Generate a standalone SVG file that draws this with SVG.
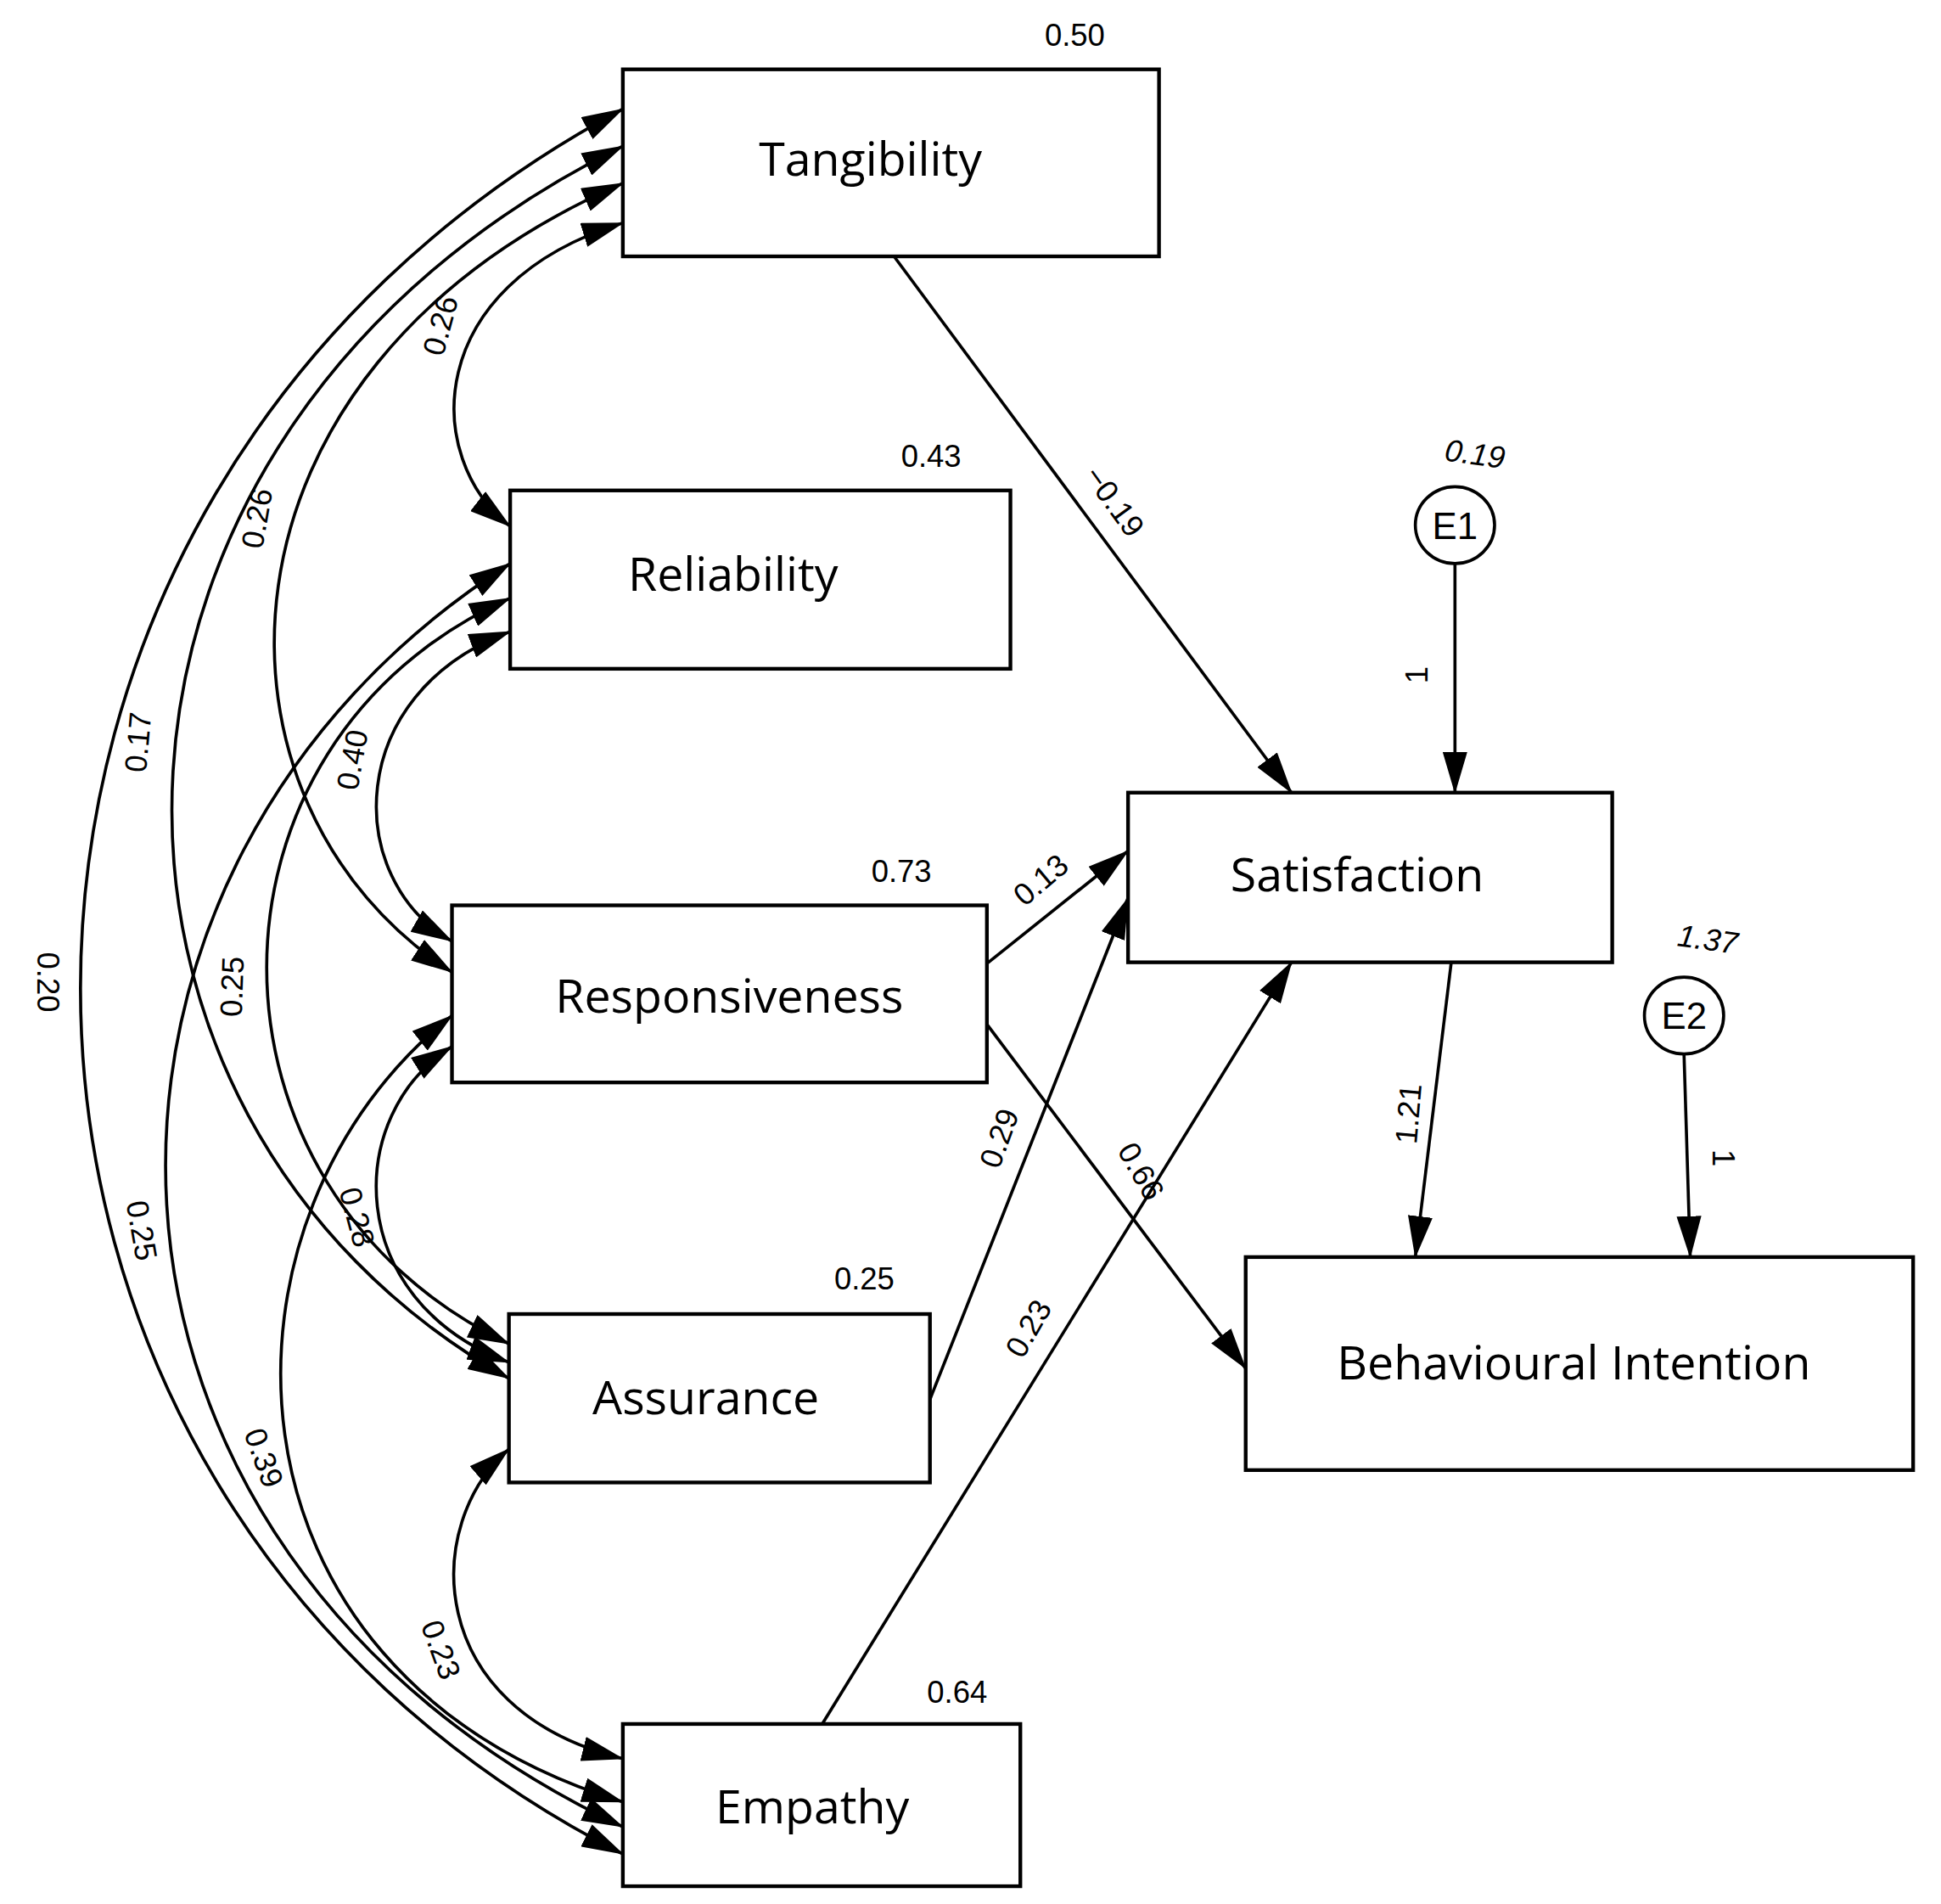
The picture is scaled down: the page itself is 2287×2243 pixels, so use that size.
<svg xmlns="http://www.w3.org/2000/svg" width="2287" height="2243" viewBox="0 0 2287 2243">
<style>
.box{fill:#fff;stroke:#000;stroke-width:3}
.lab{font-family:"Open Sans",sans-serif;font-size:38px;text-anchor:middle;fill:#000}
.num{font-family:"Liberation Sans",Arial,sans-serif;font-size:25px;text-anchor:middle;fill:#000}
.it{font-style:italic}
.c{fill:none;stroke:#000;stroke-width:2.5}
</style>
<defs>
<marker id="ah" markerUnits="userSpaceOnUse" markerWidth="34" markerHeight="20" viewBox="0 0 34 20" refX="33" refY="10" orient="auto-start-reverse"><path d="M0,0 L34,10 L0,20 Z" fill="#000"/></marker>
</defs>
<rect width="2287" height="2243" fill="#fff"/>
<g transform="scale(1.459)">
<g id="connectors">
<path class="c" marker-start="url(#ah)" marker-end="url(#ah)" d="M503,180 C341,230 341,370 412,425"/>
<path class="c" marker-start="url(#ah)" marker-end="url(#ah)" d="M503,148 C155,300 155,650 365,785"/>
<path class="c" marker-start="url(#ah)" marker-end="url(#ah)" d="M503,118 C34,350 34,900 411,1113"/>
<path class="c" marker-start="url(#ah)" marker-end="url(#ah)" d="M503,88 C-81,400 -81,1200 503,1497"/>
<path class="c" marker-start="url(#ah)" marker-end="url(#ah)" d="M412,510 C277,560 277,710 365,760"/>
<path class="c" marker-start="url(#ah)" marker-end="url(#ah)" d="M412,483 C150,600 150,960 411,1085"/>
<path class="c" marker-start="url(#ah)" marker-end="url(#ah)" d="M412,455 C27,700 27,1250 503,1475"/>
<path class="c" marker-start="url(#ah)" marker-end="url(#ah)" d="M365,845 C277,900 277,1050 411,1100"/>
<path class="c" marker-start="url(#ah)" marker-end="url(#ah)" d="M365,820 C162,980 162,1350 503,1455"/>
<path class="c" marker-start="url(#ah)" marker-end="url(#ah)" d="M411,1170 C341,1230 341,1380 503,1420"/>
<path class="c" marker-end="url(#ah)" d="M722,207 L1043,640"/>
<path class="c" marker-end="url(#ah)" d="M1175,455 L1175,640"/>
<path class="c" marker-end="url(#ah)" d="M797,778 L911,687"/>
<path class="c" marker-end="url(#ah)" d="M751,1130 L911,725"/>
<path class="c" marker-end="url(#ah)" d="M664,1392 L1043,777"/>
<path class="c" marker-end="url(#ah)" d="M797,827 L1006,1105"/>
<path class="c" marker-end="url(#ah)" d="M1172,777 L1143,1015"/>
<path class="c" marker-end="url(#ah)" d="M1360,852 L1365,1015"/>
</g>
<g id="edge-labels">
<text class="num" transform="translate(364,265) rotate(-75)">0.26</text>
<text class="num" transform="translate(216,420) rotate(-80)">0.26</text>
<text class="num" transform="translate(120,600) rotate(-85)">0.17</text>
<text class="num" transform="translate(30,793) rotate(90)">0.20</text>
<text class="num" transform="translate(293,615) rotate(-80)">0.40</text>
<text class="num" transform="translate(196,797) rotate(-88)">0.25</text>
<text class="num" transform="translate(106,995) rotate(80)">0.25</text>
<text class="num" transform="translate(280,985) rotate(75)">0.28</text>
<text class="num" transform="translate(205,1180) rotate(70)">0.39</text>
<text class="num" transform="translate(348,1335) rotate(70)">0.23</text>
<text class="num" transform="translate(893,410) rotate(54)">−0.19</text>
<text class="num" transform="translate(1153,545) rotate(-90)">1</text>
<text class="num" transform="translate(846,717) rotate(-40)">0.13</text>
<text class="num" transform="translate(815,922) rotate(-70)">0.29</text>
<text class="num" transform="translate(838,1077) rotate(-60)">0.23</text>
<text class="num" transform="translate(914,950) rotate(60)">0.66</text>
<text class="num" transform="translate(1146,900) rotate(-85)">1.21</text>
<text class="num" transform="translate(1383,935) rotate(90)">1</text>
</g>
<g id="tangibility"><rect class="box" x="503" y="56" width="433" height="151"/><text class="lab" x="703" y="142">Tangibility</text><text class="num" x="868" y="37">0.50</text></g>
<g id="reliability"><rect class="box" x="412" y="396" width="404" height="144"/><text class="lab" x="592" y="477">Reliability</text><text class="num" x="752" y="377">0.43</text></g>
<g id="responsiveness"><rect class="box" x="365" y="731" width="432" height="143"/><text class="lab" x="589" y="818">Responsiveness</text><text class="num" x="728" y="712">0.73</text></g>
<g id="assurance"><rect class="box" x="411" y="1061" width="340" height="136"/><text class="lab" x="570" y="1142">Assurance</text><text class="num" x="698" y="1041">0.25</text></g>
<g id="empathy"><rect class="box" x="503" y="1392" width="321" height="131"/><text class="lab" x="656" y="1472">Empathy</text><text class="num" x="773" y="1375">0.64</text></g>
<g id="satisfaction"><rect class="box" x="911" y="640" width="391" height="137"/><text class="lab" x="1096" y="720">Satisfaction</text></g>
<g id="behavioural-intention"><rect class="box" x="1006" y="1015" width="539" height="172"/><text class="lab" x="1271" y="1114">Behavioural Intention</text></g>
<g id="E1"><ellipse cx="1175" cy="424" rx="32" ry="31" fill="#fff" stroke="#000" stroke-width="2.5"/><text class="num" x="1175" y="435" style="font-size:30px">E1</text><text class="num it" transform="translate(1190,375) rotate(8)">0.19</text></g>
<g id="E2"><ellipse cx="1360" cy="820" rx="32" ry="31" fill="#fff" stroke="#000" stroke-width="2.5"/><text class="num" x="1360" y="831" style="font-size:30px">E2</text><text class="num it" transform="translate(1378,767) rotate(8)">1.37</text></g>
</g>
</svg>
